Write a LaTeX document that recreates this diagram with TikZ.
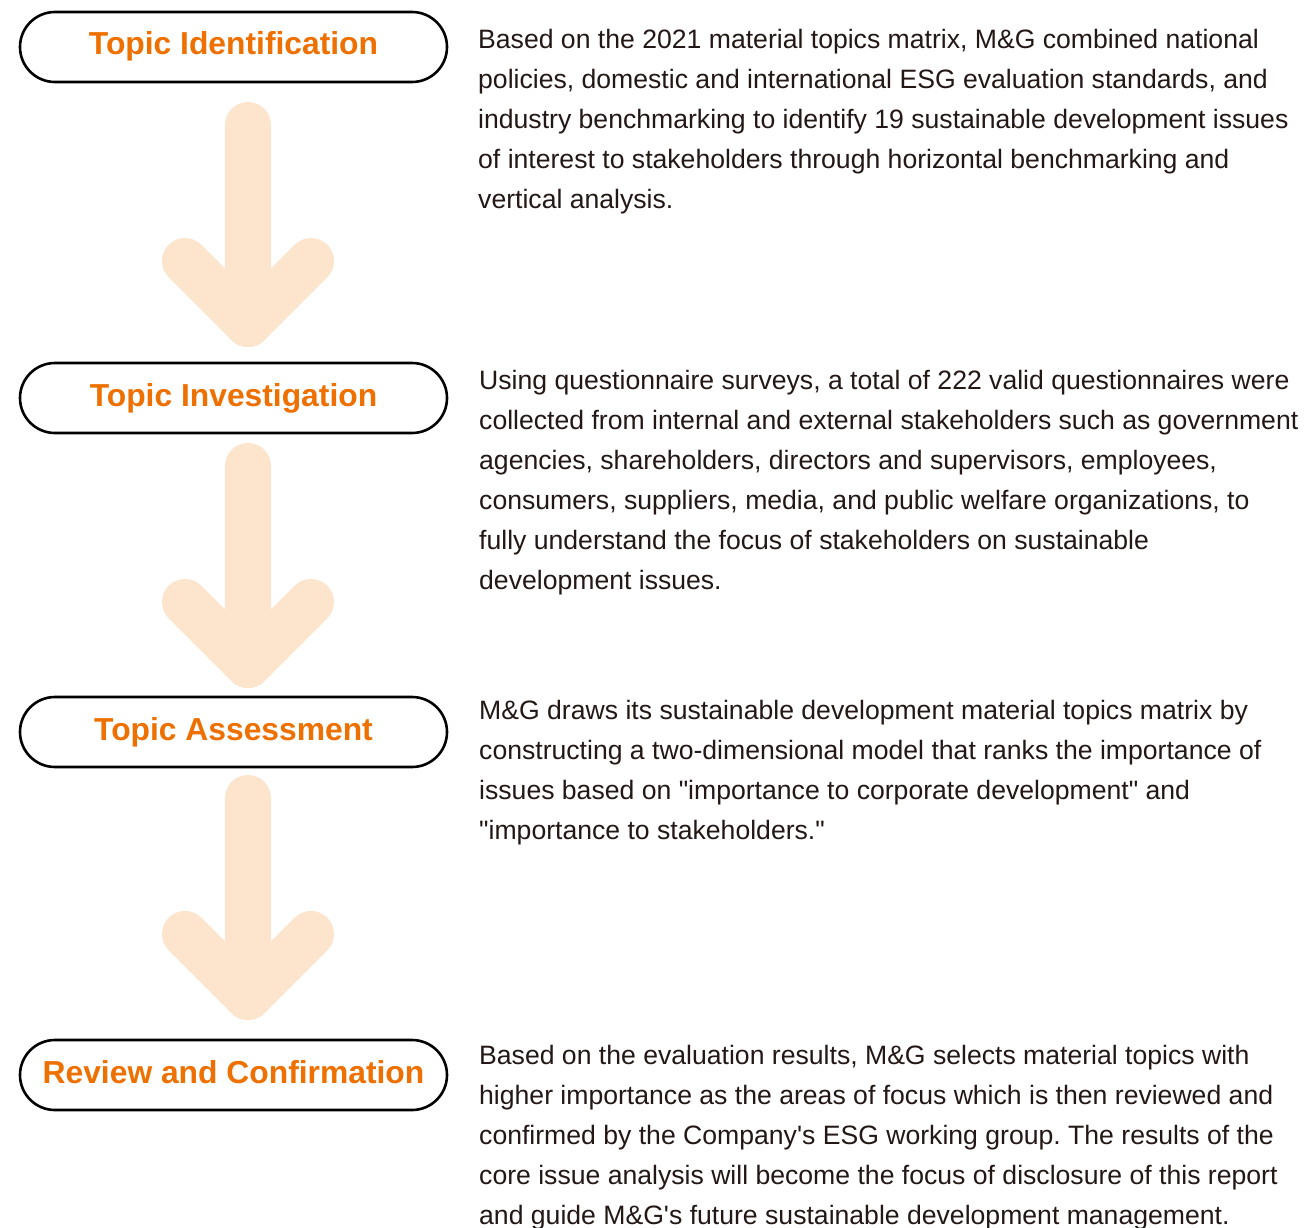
\documentclass[tikz,border=0pt]{standalone}
\usepackage{fontspec}
\setmainfont{Liberation Sans}
\frenchspacing
\definecolor{ttlorange}{RGB}{238,112,0}
\definecolor{peach}{RGB}{253,228,204}
\definecolor{bodyink}{RGB}{35,24,21}
\tikzset{
  pill/.style={draw=black, line width=2.6pt, rounded corners=35pt, minimum width=427pt,
    minimum height=70pt, inner sep=0pt, text=ttlorange, text height=23pt, text depth=7pt,
    font=\fontsize{31.8}{36}\selectfont\bfseries},
  para/.style={anchor=base west, inner sep=0pt, text=bodyink,
    font=\fontsize{26.6}{40}\selectfont},
  fatstroke/.style={draw=peach, line width=46pt, line cap=round, line join=round},
  bigarrow/.pic={
    \draw[fatstroke] (0,0) -- (0,199);
    \draw[fatstroke] (-63,136) -- (0,199) -- (63,136);
  }
}
\begin{document}
\begin{tikzpicture}[x=1pt,y=-1pt]
\useasboundingbox (0,0) rectangle (1306,1228);
\fill[white] (0,0) rectangle (1306,1228);

% arrows
\pic (a1) at (248,125) {bigarrow};
\pic (a2) at (248,466) {bigarrow};
\pic (a3) at (248,798) {bigarrow};

% step pills
\node[pill] (p1) at (233.5,47) {Topic Identification};
\node[pill] (p2) at (233.5,398) {Topic Investigation};
\node[pill] (p3) at (233.5,732) {Topic Assessment};
\node[pill] (p4) at (233.5,1075) {Review and Confirmation};

% descriptions
\node[para] (t1) at (478,49) {\parbox[t]{900pt}{\raggedright\frenchspacing
Based on the 2021 material topics matrix, M\&G combined national\\
policies, domestic and international ESG evaluation standards, and\\
industry benchmarking to identify 19 sustainable development issues\\
of interest to stakeholders through horizontal benchmarking and\\
vertical analysis.}};

\node[para] (t2) at (479,389) {\parbox[t]{900pt}{\raggedright\frenchspacing
Using questionnaire surveys, a total of 222 valid questionnaires were\\
collected from internal and external stakeholders such as government\\
agencies, shareholders, directors and supervisors, employees,\\
consumers, suppliers, media, and public welfare organizations, to\\
fully understand the focus of stakeholders on sustainable\\
development issues.}};

\node[para] (t3) at (479,719.5) {\parbox[t]{900pt}{\raggedright\frenchspacing
M\&G draws its sustainable development material topics matrix by\\
constructing a two-dimensional model that ranks the importance of\\
issues based on \textquotedbl importance to corporate development\textquotedbl{} and\\
\textquotedbl importance to stakeholders.\textquotedbl}};

\node[para] (t4) at (479,1064.5) {\parbox[t]{900pt}{\raggedright\frenchspacing
Based on the evaluation results, M\&G selects material topics with\\
higher importance as the areas of focus which is then reviewed and\\
confirmed by the Company\textquotesingle s ESG working group. The results of the\\
core issue analysis will become the focus of disclosure of this report\\
and guide M\&G\textquotesingle s future sustainable development management.}};
\end{tikzpicture}
\end{document}
